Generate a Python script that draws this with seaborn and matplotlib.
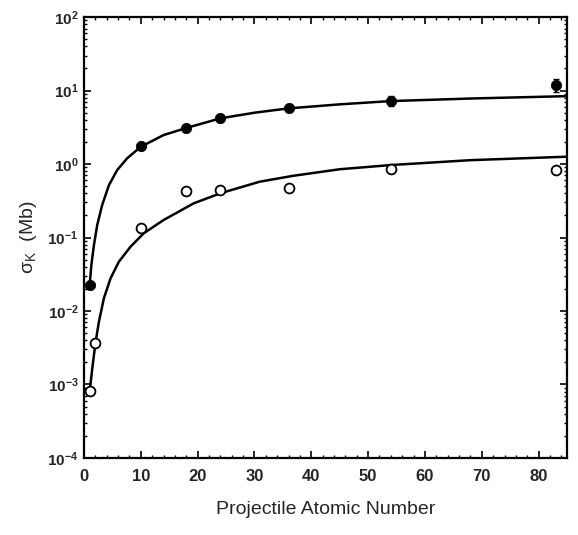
#=====================================================================================================
# Program Name     : KShellCrossSectionPlot
# Description      : Recreates the sigma_K vs projectile atomic number chart (log scale) with
#                    measured points (filled / open) and fitted curves.
# Output           : out.png
#=====================================================================================================

import numpy as np
import pandas as pd
import matplotlib
matplotlib.use("Agg")
import matplotlib.pyplot as plt
import seaborn as sns
from matplotlib.ticker import MultipleLocator, LogLocator, NullFormatter

#-----------------------------------------------------------------------------------------------------
# Data
#-----------------------------------------------------------------------------------------------------
filled_z = [1, 10, 18, 24, 36, 54, 83]
filled_sigma = [0.0226, 1.76, 3.09, 4.2, 5.8, 7.3, 11.9]
filled_err = [0.002, 0.15, 0.3, 0.45, 0.6, 1.2, 2.3]

open_z = [1, 2, 10, 18, 24, 36, 54, 83]
open_sigma = [0.00082, 0.0037, 0.135, 0.43, 0.45, 0.47, 0.85, 0.83]

upper_fit_z = [1.0, 1.3, 1.75, 2.33, 3.2, 4.4, 5.85, 7.6, 10, 14, 18, 24, 30, 36, 45, 54,
               68, 85]
upper_fit_sigma = [0.0226, 0.0423, 0.079, 0.148, 0.277, 0.518, 0.83, 1.20, 1.72, 2.48,
                   3.1, 4.19, 5.0, 5.73, 6.5, 7.2, 7.8, 8.4]

lower_fit_z = [1.0, 1.46, 2.05, 2.63, 3.5, 4.68, 6.14, 8.19, 10.5, 14, 19.3, 24, 30.9,
               36.7, 45, 54, 68, 85]
lower_fit_sigma = [0.0008, 0.00166, 0.00382, 0.00715, 0.0149, 0.0279, 0.0469, 0.075,
                   0.114, 0.173, 0.292, 0.40, 0.575, 0.69, 0.85, 0.97, 1.13, 1.26]


def make_plot():
    sns.set_style("ticks")
    plt.rcParams["font.family"] = ["Liberation Sans", "DejaVu Sans"]
    plt.rcParams["mathtext.fontset"] = "custom"
    plt.rcParams["mathtext.rm"] = "Liberation Sans"
    plt.rcParams["mathtext.it"] = "Liberation Sans"
    plt.rcParams["mathtext.bf"] = "Liberation Sans:bold"
    plt.rcParams["mathtext.default"] = "regular"
    plt.rcParams["axes.unicode_minus"] = False

    fig = plt.figure(figsize=(5.78, 5.35), dpi=100)
    ax = fig.add_axes([0.1453, 0.144, 0.981 - 0.1453, 0.968 - 0.144])

    upper = pd.DataFrame({"z": upper_fit_z, "sigma": upper_fit_sigma})
    lower = pd.DataFrame({"z": lower_fit_z, "sigma": lower_fit_sigma})
    sns.lineplot(data=upper, x="z", y="sigma", color="black", lw=1.8, ax=ax, sort=True)
    sns.lineplot(data=lower, x="z", y="sigma", color="black", lw=1.8, ax=ax, sort=True)

    ax.errorbar(filled_z, filled_sigma, yerr=filled_err, fmt="none", ecolor="black",
                elinewidth=1.5, capsize=2, zorder=3)
    sns.scatterplot(x=filled_z, y=filled_sigma, marker="o", s=55, color="black",
                    edgecolor="black", ax=ax, zorder=4)
    sns.scatterplot(x=open_z, y=open_sigma, marker="o", s=50, facecolor="white",
                    edgecolor="black", linewidth=1.3, ax=ax, zorder=4)

    ax.set_yscale("log")
    ax.set_xlim(0, 85)
    ax.set_ylim(1e-4, 1e2)
    ax.xaxis.set_major_locator(MultipleLocator(10))
    ax.xaxis.set_minor_locator(MultipleLocator(2))
    ax.yaxis.set_major_locator(LogLocator(base=10, numticks=10))
    ax.yaxis.set_minor_locator(LogLocator(base=10, subs=np.arange(2, 10), numticks=20))
    ax.yaxis.set_minor_formatter(NullFormatter())

    ax.tick_params(which="both", direction="in", top=True, right=True, color="black")
    ax.tick_params(which="major", length=5, width=1.2)
    ax.tick_params(which="minor", length=2.5, width=1.0)
    ax.tick_params(axis="x", which="major", labelsize=12, pad=8)
    ax.tick_params(axis="y", which="major", labelsize=11, pad=4)
    for lab in ax.get_xticklabels() + ax.get_yticklabels():
        lab.set_fontweight("bold")

    for sp in ax.spines.values():
        sp.set_linewidth(1.6)
        sp.set_color("black")

    ax.set_xlabel("Projectile Atomic Number", fontsize=14, labelpad=12)
    ax.set_ylabel(r"σ$_{K}$  (Mb)", fontsize=14, labelpad=6)

    fig.savefig("out.png", dpi=100, facecolor="white")


def main():
    make_plot()


if __name__ == "__main__":
    main()
